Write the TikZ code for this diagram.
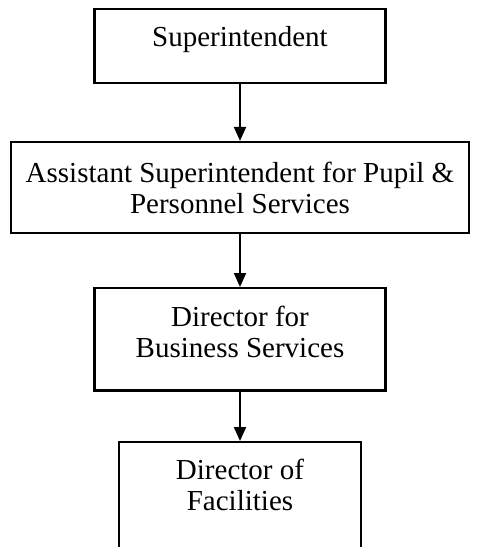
\documentclass[tikz,border=0pt]{standalone}
\usepackage{fontspec}
\setmainfont{Liberation Serif}
\usetikzlibrary{arrows.meta}

\begin{document}
\begin{tikzpicture}[x=0.5pt,y=-0.5pt,
	post/.style={draw,line width=1.1pt,align=center,font=\fontsize{14.5pt}{15.5pt}\selectfont}]
	\useasboundingbox (0,0) rectangle (479,547);
	\clip (0,0) rectangle (479,547);
	
	\node[post,anchor=north,minimum width=145.5pt,inner ysep=8.5pt,text depth=10pt] (1) at (240,8) {Superintendent};
	\node[post,minimum width=229pt,minimum height=45.5pt] (2) at (240,187.5) {Assistant Superintendent for Pupil \&\\Personnel Services};
	\node[post,anchor=north,minimum width=145.5pt,inner ysep=9pt,text depth=7.5pt] (3) at (240,287) {Director for\\Business Services};
	\node[post,anchor=north,minimum width=121pt,inner ysep=8.5pt,text depth=34pt] (4) at (240,441) {Director of\\Facilities};
	
	\path [-{Triangle[length=7pt,width=6pt]},line width=1pt] (1) edge (2);
	\path [-{Triangle[length=7pt,width=6pt]},line width=1pt] (2) edge (3);
	\path [-{Triangle[length=7pt,width=6pt]},line width=1pt] (3) edge (4);
\end{tikzpicture}
\end{document}
